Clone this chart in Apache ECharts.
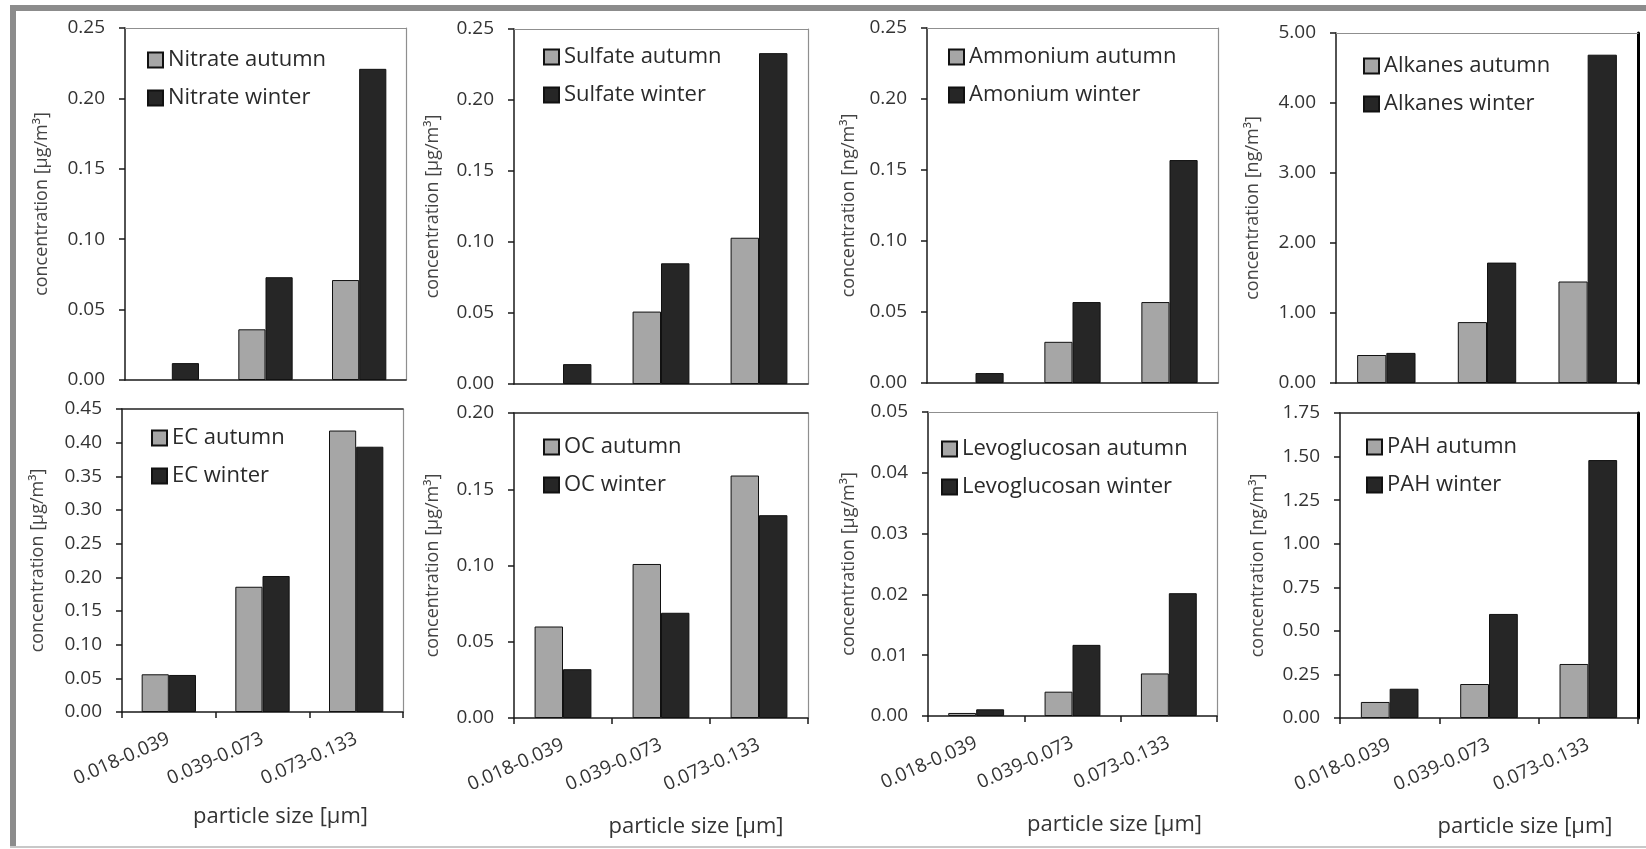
<!DOCTYPE html>
<html>
<head>
<meta charset="utf-8">
<script src="https://cdn.jsdelivr.net/npm/echarts@6/dist/echarts.min.js"></script>
<style>
html,body{margin:0;padding:0;background:#fff;}
#main{width:1646px;height:849px;}
</style>
</head>
<body>
<div id="main"></div>
<script>
// ---- data ----
const categories = ['0.018-0.039', '0.039-0.073', '0.073-0.133'];

// null = no bar drawn in the source figure
const nitrateAutumn = [null, 0.036, 0.071];
const nitrateWinter = [0.012, 0.073, 0.221];
const sulfateAutumn = [null, 0.051, 0.103];
const sulfateWinter = [0.014, 0.085, 0.233];
const ammoniumAutumn = [null, 0.029, 0.057];
const ammoniumWinter = [0.007, 0.057, 0.157];
const alkanesAutumn = [0.40, 0.87, 1.45];
const alkanesWinter = [0.43, 1.72, 4.69];
const ecAutumn = [0.056, 0.186, 0.418];
const ecWinter = [0.055, 0.202, 0.394];
const ocAutumn = [0.060, 0.101, 0.159];
const ocWinter = [0.032, 0.069, 0.133];
const levoAutumn = [0.0005, 0.0040, 0.0070];
const levoWinter = [0.0011, 0.0117, 0.0202];
const pahAutumn = [0.092, 0.195, 0.31];
const pahWinter = [0.168, 0.597, 1.48];

const legendNames = [
  ['Nitrate autumn', 'Nitrate winter'],
  ['Sulfate autumn', 'Sulfate winter'],
  ['Ammonium autumn', 'Amonium winter'],
  ['Alkanes autumn', 'Alkanes winter'],
  ['EC autumn', 'EC winter'],
  ['OC autumn', 'OC winter'],
  ['Levoglucosan autumn', 'Levoglucosan winter'],
  ['PAH autumn', 'PAH winter']
];
const seriesValues = [
  [nitrateAutumn, nitrateWinter],
  [sulfateAutumn, sulfateWinter],
  [ammoniumAutumn, ammoniumWinter],
  [alkanesAutumn, alkanesWinter],
  [ecAutumn, ecWinter],
  [ocAutumn, ocWinter],
  [levoAutumn, levoWinter],
  [pahAutumn, pahWinter]
];
const yMax = [0.25, 0.25, 0.25, 5, 0.45, 0.20, 0.05, 1.75];
const yInterval = [0.05, 0.05, 0.05, 1, 0.05, 0.05, 0.01, 0.25];
const yTitles = [
  'concentration [µg/m³]', 'concentration [µg/m³]', 'concentration [ng/m³]', 'concentration [ng/m³]',
  'concentration [µg/m³]', 'concentration [µg/m³]', 'concentration [µg/m³]', 'concentration [ng/m³]'
];
const xTitle = 'particle size [µm]';

// ---- layout (pixels) ----
const grids = [
  {left:125, top:28, right:406, bottom:380},
  {left:514, top:29, right:808, bottom:384},
  {left:927, top:28, right:1218, bottom:383},
  {left:1336, top:33, right:1638, bottom:383},
  {left:122, top:409, right:403, bottom:712},
  {left:514, top:413, right:808, bottom:718},
  {left:928, top:412, right:1217, bottom:716},
  {left:1340, top:413, right:1638, bottom:718}
];
const legendPos = [
  [147, 49], [543, 46], [948, 46], [1363, 55],
  [151, 427], [543, 436], [941, 438], [1366, 436]
];
const yNameGap = [74, 72, 69, 74, 75, 72, 70, 73];
const xNameShift = [0, 0, 0, 0, 18, 35, 42, 36];
const xNameGap = [0, 0, 0, 0, 94, 98, 98, 98];
const topBorderDark = [false, false, false, false, true, true, false, true];
const rightBorderBlack = [false, false, false, true, false, false, false, true];

const FONT = '"Open Sans", "Noto Sans", sans-serif';
const AUTUMN = '#a6a6a6';
const WINTER = '#262626';

const option = {
  backgroundColor: '#ffffff',
  animation: false,
  grid: [], xAxis: [], yAxis: [], series: [], legend: [],
  graphic: [
    {type:'rect', shape:{x:10, y:5, width:1636, height:6}, style:{fill:'#8c8c8c'}, silent:true},
    {type:'rect', shape:{x:10, y:5, width:6, height:843}, style:{fill:'#8c8c8c'}, silent:true},
    {type:'rect', shape:{x:10, y:846, width:1636, height:2}, style:{fill:'#c8c8c8'}, silent:true}
  ]
};

grids.forEach((g, i) => {
  const bottomRow = i >= 4;
  option.grid.push({
    left: g.left, top: g.top, width: g.right - g.left, height: g.bottom - g.top,
    containLabel: false, show: false
  });
  // bottom category axis
  option.xAxis.push({
    gridIndex: i, type: 'category', data: categories, position: 'bottom',
    boundaryGap: true,
    axisLine: {show: true, onZero: false, lineStyle: {color: '#1a1a1a', width: 1.5}},
    axisTick: {show: bottomRow, length: 6, alignWithLabel: false, lineStyle: {color: '#1a1a1a', width: 1.5}},
    axisLabel: {show: bottomRow, interval: 0, rotate: 24, margin: 26, fontSize: 19, color: '#333', fontFamily: FONT},
    name: bottomRow ? xTitle : '',
    nameLocation: 'middle', nameGap: xNameGap[i],
    nameTextStyle: {fontSize: 22, color: '#333', fontFamily: FONT, padding: [0, 0, 0, 2 * xNameShift[i]]},
    splitLine: {show: false}
  });
  // top frame axis
  option.xAxis.push({
    gridIndex: i, type: 'category', data: categories, position: 'top',
    axisLine: {show: true, onZero: false, lineStyle: {color: topBorderDark[i] ? '#222' : '#8f8f8f', width: topBorderDark[i] ? 1.5 : 1.2}},
    axisTick: {show: false}, axisLabel: {show: false}, splitLine: {show: false}
  });
  // left value axis
  option.yAxis.push({
    gridIndex: i, type: 'value', min: 0, max: yMax[i], interval: yInterval[i], position: 'left',
    axisLine: {show: true, onZero: false, lineStyle: {color: '#1a1a1a', width: 1.5}},
    axisTick: {show: true, length: 6, lineStyle: {color: '#1a1a1a', width: 1.5}},
    axisLabel: {margin: 20, fontSize: 19, color: '#333', fontFamily: FONT,
      formatter: v => v.toFixed(2)},
    splitLine: {show: false},
    name: yTitles[i], nameLocation: 'middle', nameGap: yNameGap[i],
    nameTextStyle: {fontSize: 18, color: '#444', fontFamily: FONT}
  });
  // right frame axis
  option.yAxis.push({
    gridIndex: i, type: 'value', min: 0, max: yMax[i], interval: yInterval[i], position: 'right',
    axisLine: {show: true, onZero: false, lineStyle: {color: rightBorderBlack[i] ? '#000' : '#8f8f8f', width: rightBorderBlack[i] ? 3 : 1.2}},
    axisTick: {show: false}, axisLabel: {show: false}, splitLine: {show: false}
  });
  const xi = i * 2, yi = i * 2;
  option.series.push({
    type: 'bar', name: legendNames[i][0], xAxisIndex: xi, yAxisIndex: yi,
    data: seriesValues[i][0], barWidth: '29%', barGap: '0%',
    itemStyle: {color: AUTUMN, borderColor: '#111', borderWidth: 1}
  });
  option.series.push({
    type: 'bar', name: legendNames[i][1], xAxisIndex: xi, yAxisIndex: yi,
    data: seriesValues[i][1], barWidth: '29%', barGap: '0%',
    itemStyle: {color: WINTER, borderColor: '#111', borderWidth: 1}
  });
  option.legend.push({
    data: legendNames[i], orient: 'vertical', left: legendPos[i][0], top: legendPos[i][1],
    itemWidth: 15, itemHeight: 15, itemGap: 16, icon: 'rect', padding: 0,
    selectedMode: false,
    textStyle: {fontSize: 22, color: '#2a2a2a', fontFamily: FONT}
  });
});

const chart = echarts.init(document.getElementById('main'), null, {renderer: 'canvas'});
chart.setOption(option);
</script>
</body>
</html>
